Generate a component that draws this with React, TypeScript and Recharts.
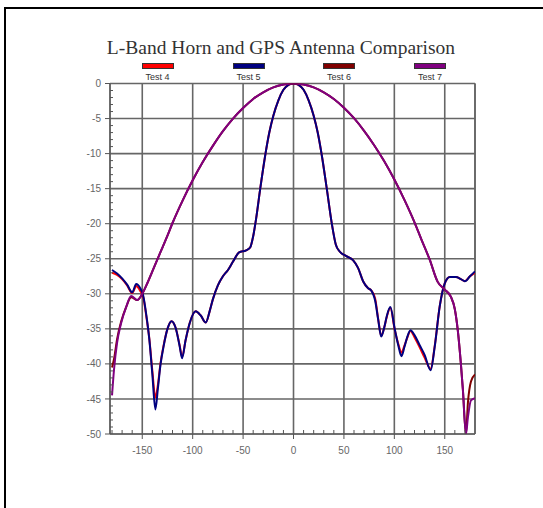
import React from "react";
import {
  LineChart,
  Line,
  XAxis,
  YAxis,
  CartesianGrid,
  ReferenceLine,
} from "recharts";

// narrow beam (Test 4 / Test 5)
const narrowAngles = [
  -180, -175, -170, -165, -160, -156, -152, -149, -146, -143, -140, -137,
  -134.5, -132, -129, -125, -121, -117, -113, -110.5, -107, -103, -97, -92,
  -87, -83, -80, -75, -70, -65, -60, -54, -47, -43, -40, -37, -33, -28, -24,
  -20, -15, -10, -5, 0, 5, 10, 15, 20, 24, 28, 33, 38, 42, 46, 52, 59, 64, 69,
  74, 77, 81, 84, 87, 90, 92.5, 96, 100.5, 104, 107, 110, 112.5, 116, 120, 125,
  130, 136, 140, 145, 150, 155, 161, 166, 170, 175, 180,
];
const test5Values = [
  -26.6, -27.1, -27.8, -28.7, -29.8, -28.6, -29.2, -30.3, -33, -36.5, -41.5,
  -46.5, -43.5, -40.2, -37.6, -35, -33.9, -34.8, -37.4, -39.2, -36.6, -34.2,
  -32.5, -33.1, -34.1, -32.4, -30.8, -28.8, -27.5, -26.6, -25.4, -24.1, -23.8,
  -23.4, -21.8, -19.2, -15, -10.2, -7, -4.6, -2.4, -0.9, -0.2, 0, -0.2, -0.9,
  -2.4, -4.6, -7, -10.2, -15, -20, -23, -24, -24.6, -25.2, -26.3, -28.2,
  -29.2, -29.5, -31, -33.7, -36.1, -34.8, -33.2, -31.9, -35.1, -37.4, -38.9,
  -37.6, -36.3, -35.2, -35.9, -37.3, -38.7, -40.9, -37.6, -31.8, -28.5, -27.6,
  -27.6, -27.9, -28.2, -27.5, -26.8,
];
const test4Values = [
  -27, -27.3, -27.9, -28.8, -29.9, -28.9, -29.6, -30.5, -33.2, -36.4, -41,
  -44.8, -43, -40, -37.5, -35, -33.9, -34.8, -37.3, -39, -36.6, -34.2, -32.5,
  -33.1, -34.1, -32.4, -30.8, -28.8, -27.5, -26.6, -25.4, -24.1, -23.8, -23.4,
  -21.8, -19.2, -15, -10.2, -7, -4.6, -2.4, -0.9, -0.2, 0, -0.2, -0.9, -2.4,
  -4.6, -7, -10.2, -15, -20, -23, -24, -24.6, -25.2, -26.3, -28.2, -29.2,
  -29.5, -30.7, -33.6, -36, -34.8, -33.3, -32, -35.2, -37.2, -38.4, -37.4,
  -36.4, -35.3, -36.2, -37.6, -39.1, -40.7, -37.5, -31.8, -28.5, -27.6, -27.6,
  -27.9, -28.2, -27.5, -27,
];

// wide beam (Test 6 / Test 7)
const wideAngles = [
  -180, -178, -175, -171, -166, -161, -155, -150, -145, -140, -135, -130, -125,
  -120, -110, -100, -90, -80, -70, -60, -50, -40, -30, -20, -10, 0, 10, 20, 30,
  40, 50, 60, 70, 80, 90, 100, 110, 120, 127, 135, 143, 150, 156, 160, 163, 166,
  168, 171, 173, 176, 180,
];
const test7Values = [
  -44.5, -40.8, -37, -34.2, -31.9, -30.3, -30.9, -30, -28.5, -26.8, -25.1,
  -23.4, -21.7, -19.9, -16.7, -13.8, -11.2, -8.9, -6.8, -5, -3.5, -2.2, -1.25,
  -0.55, -0.15, 0, -0.15, -0.55, -1.25, -2.2, -3.45, -4.95, -6.75, -8.8, -11.1,
  -13.7, -16.6, -19.8, -22.3, -25.1, -28.3, -29.4, -30.4, -32.2, -35.3, -40,
  -43.7, -50, -47.6, -45.2, -44.9,
];
const test6Values = [
  -40.5, -39.3, -36.5, -34, -31.9, -30.5, -30.9, -30, -28.5, -26.8, -25.1,
  -23.4, -21.7, -19.9, -16.7, -13.8, -11.2, -8.9, -6.8, -5, -3.5, -2.2, -1.25,
  -0.55, -0.15, 0, -0.15, -0.55, -1.25, -2.2, -3.45, -4.95, -6.75, -8.8, -11.1,
  -13.7, -16.6, -19.8, -22.3, -25.1, -28.3, -29.4, -30.4, -32.2, -35.3, -40,
  -43.7, -50, -45.5, -42.5, -41.5,
];

const xTicks = [-150, -100, -50, 0, 50, 100, 150];
const yTicks = [0, -5, -10, -15, -20, -25, -30, -35, -40, -45, -50];
const xMinorTicks = [
  -180, -170, -160, -140, -130, -120, -110, -90, -80, -70, -60, -40, -30, -20,
  -10, 10, 20, 30, 40, 60, 70, 80, 90, 110, 120, 130, 140, 160, 170,
];
const yMinorTicks = [
  -1, -2, -3, -4, -6, -7, -8, -9, -11, -12, -13, -14, -16, -17, -18, -19,
  -21, -22, -23, -24, -26, -27, -28, -29, -31, -32, -33, -34, -36, -37, -38,
  -39, -41, -42, -43, -44, -46, -47, -48, -49,
];

const zip = (xs: number[], ys: number[]) => xs.map((x, i) => ({ x, y: ys[i] }));

const series = [
  { name: "Test 4", color: "#ff0000", data: zip(narrowAngles, test4Values) },
  { name: "Test 5", color: "#000080", data: zip(narrowAngles, test5Values) },
  { name: "Test 6", color: "#800000", data: zip(wideAngles, test6Values) },
  { name: "Test 7", color: "#800080", data: zip(wideAngles, test7Values) },
];

const legendCenters = [157.5, 248.5, 339, 430];

const tickStyle = {
  fill: "#666",
  fontSize: 10,
  fontFamily: "'Liberation Sans', Arial, sans-serif",
};

const blank = () => "";

export default function App() {
  return (
    <div
      style={{
        position: "absolute",
        left: 0,
        top: 0,
        width: 543,
        height: 508,
        background: "#fff",
        overflow: "hidden",
      }}
    >
      <div
        style={{
          position: "absolute",
          left: 4,
          top: 7,
          width: 600,
          height: 600,
          borderTop: "2px solid #000",
          borderLeft: "2px solid #000",
        }}
      />
      <div
        style={{
          position: "absolute",
          left: 81,
          top: 38,
          width: 400,
          textAlign: "center",
          fontFamily: "'Liberation Serif', 'Times New Roman', serif",
          fontSize: 19.5,
          lineHeight: "19px",
          color: "#333",
          whiteSpace: "nowrap",
        }}
      >
        L-Band Horn and GPS Antenna Comparison
      </div>
      {series.map((s, i) => (
        <React.Fragment key={s.name}>
          <div
            style={{
              position: "absolute",
              left: legendCenters[i] - 16,
              top: 62.5,
              width: 32,
              height: 6,
              boxSizing: "border-box",
              background: s.color,
              border: "1px solid #333",
            }}
          />
          <div
            style={{
              position: "absolute",
              left: legendCenters[i] - 30,
              top: 72.5,
              width: 60,
              textAlign: "center",
              fontFamily: "'Liberation Sans', Arial, sans-serif",
              fontSize: 9,
              lineHeight: "9px",
              color: "#333",
            }}
          >
            {s.name}
          </div>
        </React.Fragment>
      ))}
      <div style={{ position: "absolute", left: 0, top: 0 }}>
        <LineChart
          width={543}
          height={508}
          margin={{ top: 83.5, right: 68, bottom: 44, left: 70 }}
        >
          <CartesianGrid stroke="#666" strokeWidth={1.6} />
          <XAxis
            dataKey="x"
            type="number"
            domain={[-182, 180]}
            ticks={xTicks}
            interval={0}
            allowDataOverflow
            height={30}
            tickSize={5}
            tickMargin={8}
            stroke="#555"
            tick={tickStyle}
          />
          <XAxis
            xAxisId="minor"
            dataKey="x"
            type="number"
            domain={[-182, 180]}
            ticks={xMinorTicks}
            interval={0}
            allowDataOverflow
            mirror
            axisLine={false}
            tickFormatter={blank}
            tickSize={4}
            stroke="#555"
            tick={tickStyle}
          />
          <YAxis
            type="number"
            domain={[-50, 0]}
            ticks={yTicks}
            interval={0}
            allowDataOverflow
            width={40}
            tickSize={5}
            tickMargin={4}
            stroke="#555"
            tick={tickStyle}
          />
          <YAxis
            yAxisId="minor"
            type="number"
            domain={[-50, 0]}
            ticks={yMinorTicks}
            interval={0}
            allowDataOverflow
            mirror
            axisLine={false}
            tickFormatter={blank}
            tickSize={3}
            stroke="#555"
            tick={tickStyle}
          />
          <ReferenceLine x={180} stroke="#666" strokeWidth={1.6} />
          {series.map((s) => (
            <Line
              key={s.name}
              data={s.data}
              dataKey="y"
              name={s.name}
              type="monotone"
              stroke={s.color}
              strokeWidth={2}
              dot={false}
              isAnimationActive={false}
            />
          ))}
        </LineChart>
      </div>
    </div>
  );
}
